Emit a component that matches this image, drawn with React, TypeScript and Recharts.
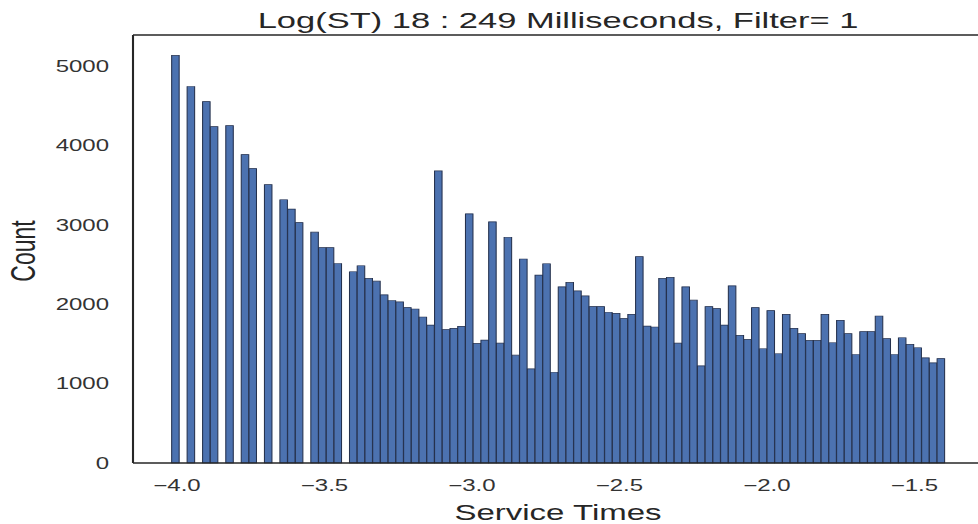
import React from "react";
import { BarChart, Bar, XAxis, YAxis, ReferenceLine } from "recharts";

// histogram of log10 service times: 100 equal-width bins
const binStart = -4.018;
const binWidth = 0.02621;
const counts = [
  5135, 0, 4743, 0, 4553, 4237, 0, 4249, 0, 3886,
  3709, 0, 3506, 0, 3316, 3199, 3029, 0, 2908, 2713,
  2713, 2513, 0, 2409, 2485, 2325, 2291, 2118, 2047, 2029,
  1958, 1940, 1839, 1738, 3680, 1680, 1696, 1722, 3139, 1506,
  1548, 3038, 1510, 2844, 1358, 2570, 1186, 2367, 2510, 1143,
  2219, 2275, 2168, 2105, 1971, 1971, 1899, 1886, 1819, 1873,
  2599, 1725, 1713, 2325, 2338, 1510, 2219, 2051, 1224, 1971,
  1946, 1738, 2232, 1608, 1557, 1958, 1439, 1920, 1376, 1873,
  1696, 1629, 1544, 1544, 1873, 1515, 1797, 1629, 1367, 1654,
  1654, 1852, 1566, 1367, 1578, 1494, 1452, 1325, 1262, 1316,
];
const xTicks = [-4.0, -3.5, -3.0, -2.5, -2.0, -1.5];
const yTicks = [0, 1000, 2000, 3000, 4000, 5000];

const title = "Log(ST) 18 : 249 Milliseconds, Filter= 1";
const xLabel = "Service Times";
const yLabel = "Count";

const FONT = "'Liberation Sans', Arial, Helvetica, sans-serif";
const INK = "#262626";

// the figure is drawn narrow and then stretched sideways
const STRETCH = 1.5;
const W = 660;
const H = 524;
const margin = { top: 35, right: 4.33, bottom: 31, left: 0 };
const Y_AXIS_W = 88.67;

const data = counts.map((c, i) => ({
  bin: i,
  mid: binStart + (i + 0.5) * binWidth,
  count: c,
}));

// matplotlib-style 5% margins around the bins
const binEnd = binStart + counts.length * binWidth;
const span = binEnd - binStart;
const xMin = binStart - 0.05 * span;
const xMax = binEnd + 0.05 * span;
const yMax = Math.max(...counts) * 1.05;

const plotW = W - margin.left - margin.right - Y_AXIS_W;
const edgePad = ((binStart - xMin) / (xMax - xMin)) * plotW;

const fmtX = (v: number) => v.toFixed(1).replace("-", "\u2212");

export default function App() {
  return (
    <div
      style={{
        position: "absolute",
        left: 0,
        top: 0,
        width: 978,
        height: H,
        overflow: "hidden",
        background: "#fff",
      }}
    >
      <div
        style={{
          position: "relative",
          width: W,
          height: H,
          transform: `scaleX(${STRETCH})`,
          transformOrigin: "0 0",
        }}
      >
        <BarChart
          width={W}
          height={H}
          data={data}
          margin={margin}
          barCategoryGap={0}
          barGap={0}
        >
          <XAxis
            xAxisId="bins"
            dataKey="bin"
            hide
            height={0}
            padding={{ left: edgePad, right: edgePad }}
          />
          <XAxis
            xAxisId="val"
            dataKey="mid"
            type="number"
            domain={[xMin, xMax]}
            allowDataOverflow
            ticks={xTicks}
            interval={0}
            tickFormatter={fmtX}
            height={30}
            tickLine={false}
            tickSize={0}
            tickMargin={17}
            axisLine={{ stroke: INK, strokeWidth: 1.4 }}
            tick={{ fill: "#333", fontSize: 16, fontFamily: FONT }}
          />
          <YAxis
            type="number"
            domain={[0, yMax]}
            ticks={yTicks}
            interval={0}
            width={Y_AXIS_W}
            tickLine={false}
            tickSize={0}
            tickMargin={16}
            axisLine={{ stroke: INK, strokeWidth: 1.4 }}
            tick={{ fill: "#333", fontSize: 16, fontFamily: FONT }}
          />
          <ReferenceLine
            xAxisId="val"
            y={yMax}
            stroke={INK}
            strokeWidth={1.4}
          />
          <Bar
            xAxisId="bins"
            dataKey="count"
            fill="#4c72b0"
            stroke="#25314d"
            strokeWidth={0.7}
            isAnimationActive={false}
          />
        </BarChart>
        <svg
          width={W}
          height={H}
          style={{ position: "absolute", left: 0, top: 0, pointerEvents: "none" }}
        >
          <text
            x={372}
            y={28.3}
            textAnchor="middle"
            fontSize={23}
            fontFamily={FONT}
            fill={INK}
          >
            {title}
          </text>
          <text
            x={372}
            y={520}
            textAnchor="middle"
            fontSize={22}
            fontFamily={FONT}
            fill={INK}
          >
            {xLabel}
          </text>
          <text
            transform="translate(23.3,251) rotate(-90)"
            textAnchor="middle"
            fontSize={23}
            fontFamily={FONT}
            fill={INK}
          >
            {yLabel}
          </text>
        </svg>
      </div>
    </div>
  );
}
